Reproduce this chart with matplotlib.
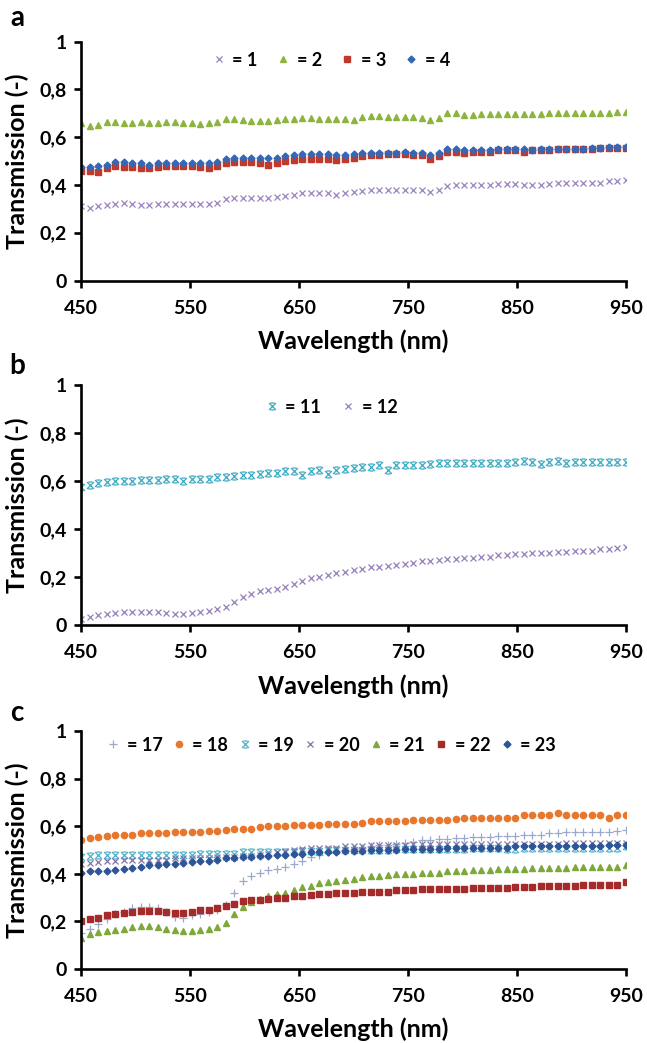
import numpy as np
import matplotlib
matplotlib.use("Agg")
import matplotlib.pyplot as plt
from matplotlib.path import Path

plt.rcParams['font.family'] = ['Lato', 'DejaVu Sans']
plt.rcParams['font.weight'] = 'bold'

# Wavelength grid (nm)
wl = np.linspace(450, 950, 65)

# Panel a
s1 = [0.31, 0.305, 0.31, 0.315, 0.32, 0.325, 0.32, 0.315, 0.315, 0.32,
      0.32, 0.32, 0.32, 0.32, 0.32, 0.32, 0.325, 0.34, 0.345, 0.345,
      0.345, 0.345, 0.345, 0.35, 0.355, 0.36, 0.365, 0.365, 0.365, 0.365,
      0.36, 0.365, 0.37, 0.375, 0.38, 0.38, 0.38, 0.38, 0.38, 0.38,
      0.38, 0.37, 0.38, 0.395, 0.40, 0.40, 0.40, 0.40, 0.40, 0.405,
      0.405, 0.405, 0.40, 0.40, 0.40, 0.405, 0.41, 0.41, 0.41, 0.41,
      0.41, 0.41, 0.415, 0.415, 0.42]
s2 = [0.66, 0.645, 0.65, 0.665, 0.665, 0.66, 0.66, 0.665, 0.66, 0.66,
      0.665, 0.665, 0.66, 0.66, 0.655, 0.66, 0.665, 0.675, 0.675, 0.672,
      0.67, 0.67, 0.67, 0.672, 0.675, 0.678, 0.68, 0.68, 0.678, 0.677,
      0.676, 0.675, 0.672, 0.685, 0.688, 0.688, 0.686, 0.685, 0.684, 0.683,
      0.682, 0.672, 0.68, 0.702, 0.70, 0.695, 0.695, 0.696, 0.696, 0.697,
      0.697, 0.698, 0.698, 0.699, 0.699, 0.70, 0.70, 0.70, 0.701, 0.701,
      0.702, 0.702, 0.703, 0.704, 0.706]
s3 = [0.46, 0.46, 0.455, 0.47, 0.48, 0.475, 0.475, 0.47, 0.47, 0.475,
      0.48, 0.48, 0.48, 0.48, 0.475, 0.47, 0.48, 0.49, 0.495, 0.495,
      0.495, 0.49, 0.485, 0.49, 0.50, 0.505, 0.51, 0.51, 0.51, 0.51,
      0.505, 0.51, 0.515, 0.52, 0.525, 0.525, 0.53, 0.53, 0.53, 0.525,
      0.525, 0.51, 0.52, 0.54, 0.54, 0.535, 0.54, 0.54, 0.54, 0.545,
      0.545, 0.545, 0.54, 0.545, 0.545, 0.545, 0.55, 0.55, 0.55, 0.55,
      0.55, 0.555, 0.555, 0.555, 0.555]
s4 = [0.475, 0.475, 0.48, 0.485, 0.495, 0.495, 0.49, 0.49, 0.485, 0.49,
      0.49, 0.49, 0.49, 0.49, 0.49, 0.49, 0.495, 0.51, 0.515, 0.515,
      0.515, 0.515, 0.515, 0.515, 0.52, 0.525, 0.53, 0.53, 0.53, 0.53,
      0.525, 0.525, 0.53, 0.535, 0.535, 0.535, 0.535, 0.535, 0.54, 0.535,
      0.535, 0.525, 0.535, 0.55, 0.55, 0.545, 0.545, 0.545, 0.545, 0.55,
      0.55, 0.55, 0.55, 0.545, 0.55, 0.55, 0.55, 0.55, 0.55, 0.55,
      0.555, 0.555, 0.56, 0.56, 0.56]

# Panel b
s11 = [0.575, 0.585, 0.59, 0.595, 0.60, 0.60, 0.60, 0.605, 0.605, 0.605,
       0.61, 0.61, 0.60, 0.61, 0.61, 0.61, 0.615, 0.615, 0.62, 0.625,
       0.625, 0.63, 0.635, 0.635, 0.64, 0.64, 0.625, 0.64, 0.645, 0.63,
       0.645, 0.65, 0.655, 0.66, 0.66, 0.665, 0.645, 0.665, 0.665, 0.665,
       0.665, 0.67, 0.675, 0.675, 0.675, 0.675, 0.675, 0.675, 0.675, 0.675,
       0.675, 0.68, 0.685, 0.68, 0.67, 0.68, 0.685, 0.675, 0.68, 0.68,
       0.68, 0.68, 0.68, 0.68, 0.68]
s12 = [0.025, 0.035, 0.04, 0.045, 0.05, 0.055, 0.055, 0.055, 0.055, 0.055,
       0.05, 0.045, 0.045, 0.05, 0.055, 0.06, 0.065, 0.075, 0.095, 0.115,
       0.13, 0.14, 0.145, 0.15, 0.16, 0.17, 0.185, 0.195, 0.20, 0.21,
       0.215, 0.22, 0.23, 0.235, 0.24, 0.24, 0.245, 0.25, 0.255, 0.26,
       0.265, 0.265, 0.27, 0.275, 0.275, 0.28, 0.28, 0.285, 0.285, 0.29,
       0.29, 0.295, 0.295, 0.30, 0.30, 0.30, 0.305, 0.305, 0.31, 0.31,
       0.31, 0.315, 0.315, 0.32, 0.325]

# Panel c
s17 = [0.15, 0.17, 0.19, 0.21, 0.23, 0.24, 0.255, 0.26, 0.26, 0.255,
       0.24, 0.22, 0.215, 0.225, 0.23, 0.24, 0.25, 0.27, 0.32, 0.37,
       0.39, 0.405, 0.415, 0.42, 0.43, 0.44, 0.455, 0.47, 0.48, 0.49,
       0.495, 0.50, 0.505, 0.51, 0.515, 0.52, 0.52, 0.525, 0.53, 0.535,
       0.54, 0.54, 0.545, 0.545, 0.55, 0.55, 0.555, 0.555, 0.555, 0.56,
       0.56, 0.56, 0.565, 0.565, 0.565, 0.57, 0.57, 0.575, 0.575, 0.575,
       0.575, 0.575, 0.575, 0.58, 0.585]
s18 = [0.54, 0.55, 0.555, 0.56, 0.565, 0.565, 0.565, 0.57, 0.57, 0.57,
       0.57, 0.575, 0.575, 0.575, 0.575, 0.58, 0.58, 0.585, 0.59, 0.59,
       0.59, 0.595, 0.60, 0.60, 0.60, 0.605, 0.605, 0.605, 0.605, 0.61,
       0.61, 0.61, 0.61, 0.615, 0.62, 0.62, 0.62, 0.62, 0.62, 0.625,
       0.625, 0.625, 0.625, 0.625, 0.63, 0.635, 0.635, 0.635, 0.635, 0.635,
       0.635, 0.635, 0.645, 0.645, 0.645, 0.645, 0.655, 0.645, 0.645, 0.645,
       0.645, 0.645, 0.635, 0.645, 0.645]
s19 = [0.47, 0.475, 0.48, 0.48, 0.48, 0.48, 0.48, 0.48, 0.48, 0.48,
       0.48, 0.48, 0.48, 0.48, 0.485, 0.485, 0.485, 0.485, 0.485, 0.49,
       0.49, 0.49, 0.49, 0.49, 0.49, 0.49, 0.495, 0.495, 0.495, 0.50,
       0.50, 0.50, 0.50, 0.50, 0.50, 0.50, 0.50, 0.505, 0.505, 0.505,
       0.505, 0.505, 0.505, 0.505, 0.505, 0.505, 0.51, 0.51, 0.51, 0.51,
       0.505, 0.505, 0.51, 0.51, 0.51, 0.51, 0.51, 0.51, 0.51, 0.51,
       0.51, 0.51, 0.51, 0.51, 0.515]
s20 = [0.44, 0.445, 0.45, 0.455, 0.455, 0.46, 0.46, 0.46, 0.46, 0.46,
       0.46, 0.465, 0.465, 0.465, 0.465, 0.465, 0.47, 0.47, 0.47, 0.475,
       0.475, 0.48, 0.485, 0.49, 0.495, 0.50, 0.505, 0.51, 0.51, 0.51,
       0.51, 0.515, 0.515, 0.515, 0.52, 0.52, 0.52, 0.52, 0.52, 0.525,
       0.525, 0.525, 0.525, 0.525, 0.525, 0.525, 0.525, 0.525, 0.525, 0.525,
       0.525, 0.525, 0.525, 0.525, 0.525, 0.525, 0.525, 0.53, 0.53, 0.53,
       0.53, 0.53, 0.53, 0.53, 0.53]
s21 = [0.13, 0.145, 0.155, 0.16, 0.165, 0.17, 0.175, 0.18, 0.18, 0.175,
       0.17, 0.165, 0.16, 0.16, 0.165, 0.17, 0.175, 0.195, 0.23, 0.26,
       0.28, 0.295, 0.305, 0.315, 0.32, 0.33, 0.345, 0.35, 0.36, 0.365,
       0.37, 0.375, 0.38, 0.385, 0.39, 0.39, 0.395, 0.40, 0.40, 0.40,
       0.405, 0.405, 0.405, 0.41, 0.41, 0.41, 0.415, 0.415, 0.415, 0.42,
       0.42, 0.42, 0.42, 0.425, 0.425, 0.425, 0.425, 0.425, 0.43, 0.43,
       0.43, 0.43, 0.43, 0.43, 0.435]
s22 = [0.20, 0.21, 0.215, 0.225, 0.23, 0.235, 0.24, 0.245, 0.245, 0.245,
       0.24, 0.235, 0.235, 0.24, 0.25, 0.25, 0.255, 0.265, 0.275, 0.285,
       0.29, 0.29, 0.295, 0.30, 0.30, 0.305, 0.305, 0.31, 0.315, 0.315,
       0.32, 0.32, 0.32, 0.325, 0.325, 0.325, 0.325, 0.33, 0.33, 0.33,
       0.335, 0.335, 0.335, 0.335, 0.335, 0.335, 0.34, 0.34, 0.34, 0.34,
       0.34, 0.345, 0.345, 0.345, 0.35, 0.35, 0.35, 0.35, 0.35, 0.355,
       0.355, 0.355, 0.355, 0.355, 0.365]
s23 = [0.405, 0.41, 0.41, 0.41, 0.415, 0.42, 0.425, 0.43, 0.435, 0.435,
       0.44, 0.44, 0.445, 0.45, 0.455, 0.455, 0.46, 0.465, 0.465, 0.47,
       0.47, 0.475, 0.475, 0.48, 0.48, 0.485, 0.485, 0.49, 0.49, 0.49,
       0.49, 0.495, 0.495, 0.495, 0.50, 0.50, 0.50, 0.50, 0.505, 0.505,
       0.505, 0.505, 0.505, 0.51, 0.51, 0.51, 0.51, 0.51, 0.51, 0.51,
       0.51, 0.515, 0.515, 0.515, 0.515, 0.515, 0.515, 0.515, 0.515, 0.515,
       0.515, 0.515, 0.52, 0.52, 0.52]

# Excel-like "star" marker: an x with short caps top and bottom
star_x = Path([(-1, -1), (1, 1), (-1, 1), (1, -1), (-0.6, 1), (0.6, 1), (-0.6, -1), (0.6, -1)],
              [Path.MOVETO, Path.LINETO] * 4)

# (label, data, marker, colour, size, filled)
panel_a = [("= 1", s1, 'x', '#9883c0', 5, False),
           ("= 2", s2, '^', '#8db43e', 4.5, True),
           ("= 3", s3, 's', '#c0392b', 4.5, True),
           ("= 4", s4, 'D', '#3567b5', 3.5, True)]
panel_b = [("= 11", s11, star_x, '#3aa9c2', 5, False),
           ("= 12", s12, 'x', '#9380bc', 5, False)]
panel_c = [("= 17", s17, '+', '#9aa8cc', 6, False),
           ("= 18", s18, 'o', '#e8772e', 4.5, True),
           ("= 19", s19, star_x, '#4bb0c8', 5, False),
           ("= 20", s20, 'x', '#8474a8', 5, False),
           ("= 21", s21, '^', '#7fa83a', 4.5, True),
           ("= 22", s22, 's', '#a52a2a', 4.5, True),
           ("= 23", s23, 'D', '#2d5597', 3.5, True)]

fig = plt.figure(figsize=(6.47, 10.43), dpi=100)
left, width = 81 / 647, 545 / 647
axes_boxes = [(280.5, 238.8), (625, 240), (969, 238)]
legend_y = [0.923, 0.908, 0.94]
legend_sp = [0.9, 1.0, 0.4]
letters = [('a', 18), ('b', 366), ('c', 713)]

for k, series in enumerate([panel_a, panel_b, panel_c]):
    ybot, h = axes_boxes[k]
    ax = fig.add_axes([left, 1 - ybot / 1043, width, h / 1043])
    for lab, vals, mk, col, ms, filled in series:
        if filled:
            ax.plot(wl, vals, linestyle='none', marker=mk, color=col, ms=ms,
                    mec=col, label=lab)
        else:
            ax.plot(wl, vals, linestyle='none', marker=mk, color=col, ms=ms,
                    mew=0.9, label=lab)
    ax.set_xlim(450, 950)
    ax.set_ylim(0, 1)
    ax.set_xticks([450, 550, 650, 750, 850, 950])
    ax.set_yticks([0, 0.2, 0.4, 0.6, 0.8, 1])
    ax.set_yticklabels(['0', '0,2', '0,4', '0,6', '0,8', '1'])
    for s in ['top', 'right']:
        ax.spines[s].set_visible(False)
    for s in ['left', 'bottom']:
        ax.spines[s].set_linewidth(1.9)
    ax.tick_params(direction='out', length=5, width=1.9, labelsize=14)
    ax.tick_params(axis='x', pad=9)
    ax.tick_params(axis='y', pad=5)
    for t in ax.get_xticklabels() + ax.get_yticklabels():
        t.set_fontweight('bold')
    ax.set_xlabel('Wavelength (nm)', fontsize=18, fontweight='bold')
    ax.set_ylabel('Transmission (-)', fontsize=18, fontweight='bold')
    ax.xaxis.set_label_coords(0.5, -0.205)
    ax.yaxis.set_label_coords(-0.095, 0.5)
    ax.legend(loc='center', bbox_to_anchor=(0.457, legend_y[k]), ncol=len(series),
              frameon=False, handletextpad=0.25, columnspacing=legend_sp[k],
              handlelength=1.0, prop={'weight': 'bold', 'size': 13})
    letter, ly = letters[k]
    fig.text(17 / 647, 1 - ly / 1043, letter, fontsize=20, fontweight='bold',
             ha='center', va='center')

fig.savefig('out.png', dpi=100)
